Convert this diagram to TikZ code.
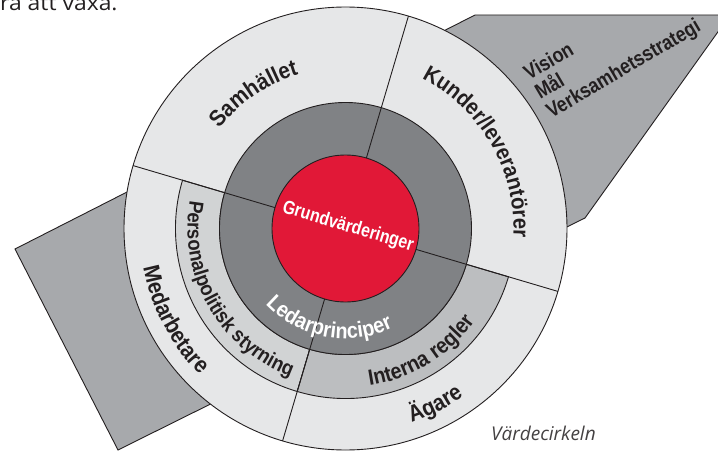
\documentclass[tikz,border=0pt]{standalone}
\usepackage{fontspec}
\setmainfont{Liberation Sans}
\newfontfamily\hvc{Liberation Sans}[FakeStretch=0.9]
\newfontfamily\osans{Open Sans}
\usetikzlibrary{decorations.text}
\definecolor{ringlight}{HTML}{E6E7E8}
\definecolor{bandA}{HTML}{D1D3D4}
\definecolor{bandB}{HTML}{BCBEC0}
\definecolor{ringdark}{HTML}{808285}
\definecolor{corered}{HTML}{E11837}
\definecolor{bandgray}{HTML}{A7A9AC}
\definecolor{ink}{HTML}{231F20}
\begin{document}
\begin{tikzpicture}[x=1pt,y=1pt,
  outline/.style={draw=ink, line width=0.9pt, line join=miter},
  arctext/.style={decorate, decoration={text along path, text align=center, text={#1}}},
  vlabel/.style={anchor=base west, inner sep=0pt, rotate=30.5, text=ink,
    font=\fontsize{21}{21}\selectfont\bfseries},
]
\useasboundingbox (0,0) rectangle (718,-452);
\clip (0,0) rectangle (718,-452);

% gray band behind the circle
\path[outline, fill=bandgray] (15,-249) -- (475,-15) -- (730,-15) -- (585,-218) -- (118,-450) -- cycle;

\begin{scope}[shift={(345.5,-228.5)}]
  % outer ring
  \path[outline, fill=ringlight] (0,0) circle[radius=221.5];
  % middle band (lower half)
  \path[outline, fill=bandA] (163.5:126) -- (163.5:170)
     arc[start angle=163.5, end angle=253.5, radius=170] -- (253.5:126)
     arc[start angle=253.5, end angle=163.5, radius=126] -- cycle;
  \path[outline, fill=bandB] (253.5:126) -- (253.5:170)
     arc[start angle=253.5, end angle=343.5, radius=170] -- (343.5:126)
     arc[start angle=343.5, end angle=253.5, radius=126] -- cycle;
  % dark ring and red core
  \path[outline, fill=ringdark] (0,0) circle[radius=126];
  \path[outline, fill=corered] (0,0) circle[radius=73.5];
  % dividing lines
  \foreach \a in {73.5,163.5,253.5,343.5}
    \draw[outline] (\a:73.5) -- (\a:221.5);

  % curved labels
  \path[arctext={|\hvc\fontsize{23}{23}\selectfont\bfseries\color{ink}|Samhället}]
    (164.3:161) arc[start angle=164.3, end angle=84.3, radius=161];
  \path[arctext={|\hvc\fontsize{22.5}{22.5}\selectfont\bfseries\color{ink}|Kunder/leverantörer}]
    (80:168) arc[start angle=80, end angle=-20, radius=168];
  \path[arctext={|\hvc\fontsize{23}{23}\selectfont\bfseries\color{ink}|Medarbetare}]
    (173:206) arc[start angle=173, end angle=243, radius=206];
  \path[arctext={|\hvc\fontsize{20.5}{20.5}\selectfont\bfseries\color{ink}|Personalpolitisk styrning}]
    (159.7:158) arc[start angle=159.7, end angle=259.7, radius=158];
  \path[arctext={|\hvc\fontsize{22}{22}\selectfont\bfseries\color{ink}|Interna regler}]
    (266.5:159) arc[start angle=266.5, end angle=336.5, radius=159];
  \path[arctext={|\hvc\fontsize{23}{23}\selectfont\bfseries\color{ink}|Ägare}]
    (277:205) arc[start angle=277, end angle=317, radius=205];
  \path[arctext={|\hvc\fontsize{22}{22}\selectfont\bfseries\color{white}|Ledarprinciper}]
    (209.5:110) arc[start angle=209.5, end angle=309.5, radius=110];

  \node[rotate=-16.5, text=white, inner sep=0pt,
        font=\fontsize{19}{19}\selectfont\bfseries] (core) at (2.5,1.5)
        {\scalebox{0.84}[1]{Grundvärderinger}};
\end{scope}

% labels on the band
\node[vlabel] (vision) at (529,-80.7) {\scalebox{0.85}[1]{Vision}};
\node[vlabel] (mal) at (540.2,-99.7) {\scalebox{0.85}[1]{Mål}};
\node[vlabel] (strategi) at (551.4,-118.7) {\scalebox{0.85}[1]{Verksamhetsstrategi}};

% caption and cut-off text
\node[anchor=base west, inner sep=0pt, text=ink!85,
      font=\osans\itshape\fontsize{19}{19}\selectfont] (caption) at (491,-440) {Värdecirkeln};
\node[anchor=base west, inner sep=0pt, text=ink,
      font=\osans\fontsize{21}{21}\selectfont] (cut) at (0,-11) {\scalebox{1.09}[1]{ra att växa.}};
\end{tikzpicture}
\end{document}
